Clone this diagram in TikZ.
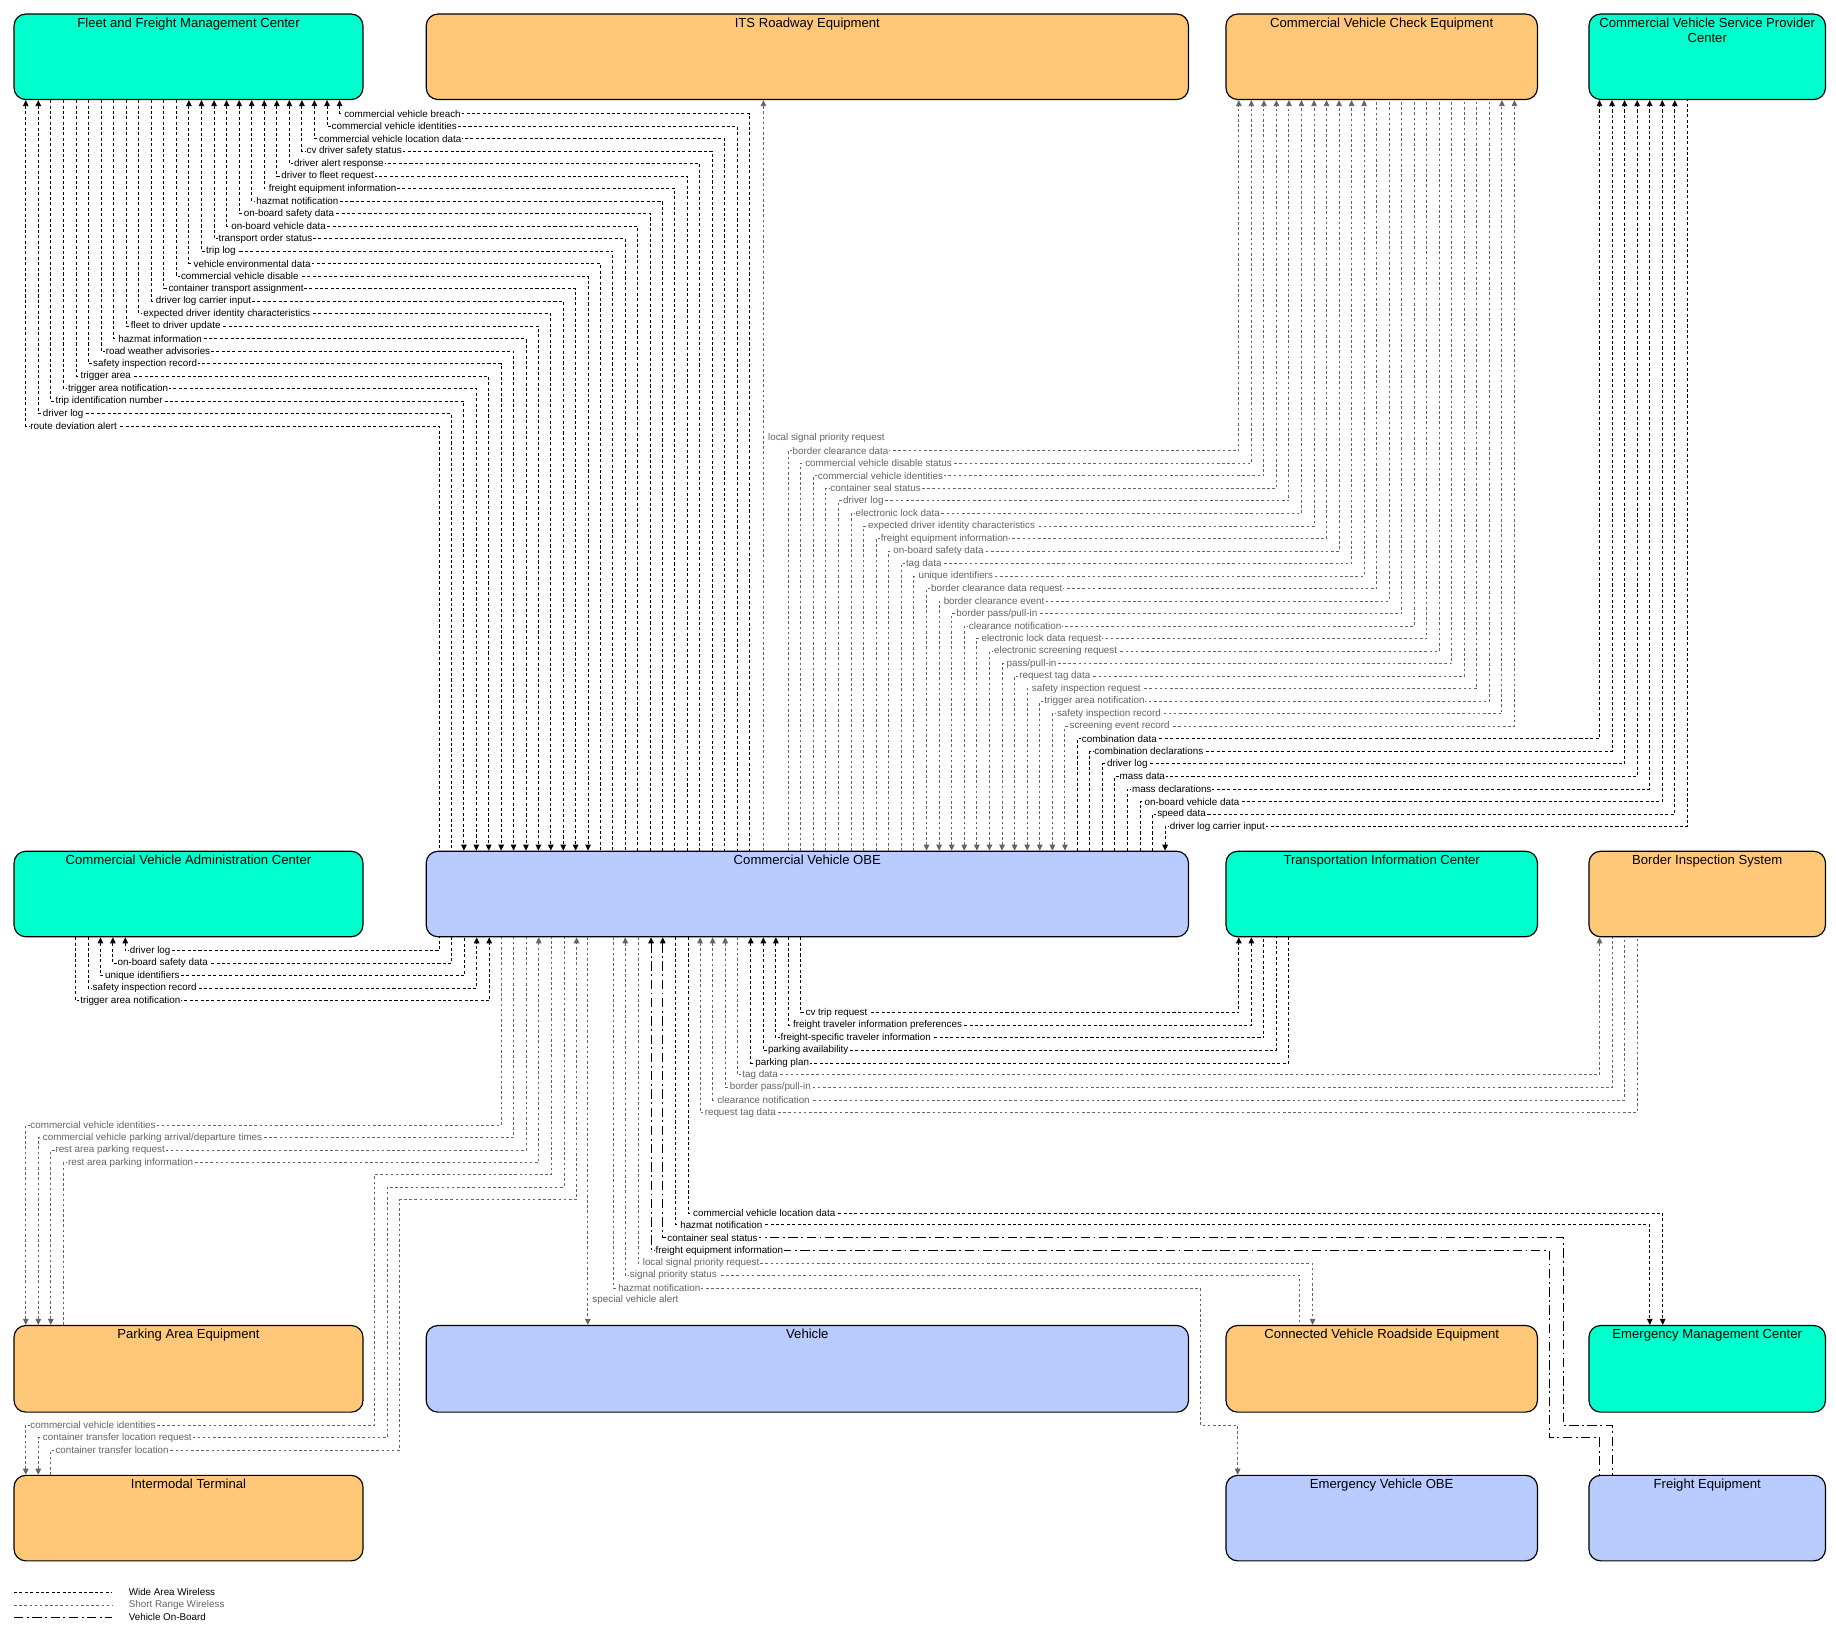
\documentclass[tikz,border=0pt]{standalone}
\usepackage{fontspec}
\setmainfont{Liberation Sans}
\usetikzlibrary{arrows.meta,fit}
\definecolor{cteal}{RGB}{0,255,204}
\definecolor{corange}{RGB}{255,200,120}
\definecolor{cblue}{RGB}{184,204,255}
\definecolor{cgrey}{RGB}{100,100,100}
\tikzset{
  box/.style={draw=black,line width=0.5pt,rounded corners=5pt,inner sep=0pt},
  ttl/.style={font=\fontsize{5.6}{6.4}\selectfont,inner sep=1pt,align=center,anchor=north},
  wa/.style={line width=0.4pt,black,dash pattern=on 1.3pt off 1pt,-{},>={Triangle[length=2.6pt,width=2.4pt]}},
  sr/.style={line width=0.4pt,cgrey,dash pattern=on 1.1pt off 1.1pt,>={Triangle[length=2.6pt,width=2.4pt]}},
  vob/.style={line width=0.4pt,black,dash pattern=on 4pt off 1.5pt on 0.8pt off 1.5pt,>={Triangle[length=2.6pt,width=2.4pt]}},
  walbl/.style={text=black},
  srlbl/.style={text=cgrey},
  voblbl/.style={text=black},
  lbl/.style={font=\fontsize{4.2}{4.6}\selectfont,fill=white,inner sep=0.4pt,anchor=west,xshift=1.4pt},
  arrF/.style={<-},arrS/.style={->},arrB/.style={<->},
}
% #1 style, #2 arrow (F/S/B), #3 x1, #4 node1 anchor, #5 y, #6 x2, #7 node2 anchor, #8 label, #9 name
\newcommand\flw[9]{%
  \draw[#1,arr#2] (#3,0 |- #4) -- (#3,#5) -- (#6,#5) -- (#6,0 |- #7);
  \node[lbl,#1lbl] (#9) at (#3,#5) {#8};}
\newcommand\bx[7]{%
  \node[box,fill=#6,fit={(#2,#3) (#4,#5)}] (#1) {};
  \node[ttl] (#1-t) at ([yshift=-0.6pt]#1.north) {#7};}
\begin{document}
\begin{tikzpicture}[x=0.5pt,y=-0.5pt]
\useasboundingbox (0,0) rectangle (1568,1397);
\bx{fleet}{12}{12}{310}{85}{cteal}{Fleet and Freight Management Center}
\bx{its}{364}{12}{1015}{85}{corange}{ITS Roadway Equipment}
\bx{check}{1047}{12}{1313}{85}{corange}{Commercial Vehicle Check Equipment}
\bx{sp}{1357}{12}{1559}{85}{cteal}{Commercial Vehicle Service Provider\\Center}
\bx{admin}{12}{727}{310}{800}{cteal}{Commercial Vehicle Administration Center}
\bx{obe}{364}{727}{1015}{800}{cblue}{Commercial Vehicle OBE}
\bx{tic}{1047}{727}{1313}{800}{cteal}{Transportation Information Center}
\bx{bis}{1357}{727}{1559}{800}{corange}{Border Inspection System}
\bx{park}{12}{1132}{310}{1206}{corange}{Parking Area Equipment}
\bx{veh}{364}{1132}{1015}{1206}{cblue}{Vehicle}
\bx{cvre}{1047}{1132}{1313}{1206}{corange}{Connected Vehicle Roadside Equipment}
\bx{emc}{1357}{1132}{1559}{1206}{cteal}{Emergency Management Center}
\bx{imt}{12}{1260}{310}{1333}{corange}{Intermodal Terminal}
\bx{evobe}{1047}{1260}{1313}{1333}{cblue}{Emergency Vehicle OBE}
\bx{fe}{1357}{1260}{1559}{1333}{cblue}{Freight Equipment}

% Fleet <-> OBE
\foreach \a/\t [count=\k from 0] in {F/commercial vehicle breach,F/commercial vehicle identities,F/commercial vehicle location data,F/cv driver safety status,F/driver alert response,F/driver to fleet request,F/freight equipment information,F/hazmat notification,F/on-board safety data,F/on-board vehicle data,F/transport order status,F/trip log,F/vehicle environmental data,S/commercial vehicle disable,S/container transport assignment,S/driver log carrier input,S/expected driver identity characteristics,S/fleet to driver update,S/hazmat information,S/road weather advisories,S/safety inspection record,S/trigger area,S/trigger area notification,S/trip identification number,F/driver log,F/route deviation alert}{
  \pgfmathsetmacro\xa{22+10.72*(25-\k)}
  \pgfmathsetmacro\xb{375+10.6*(25-\k)}
  \pgfmathsetmacro\yy{97+10.68*\k}
  \flw{wa}{\a}{\xa}{fleet.south}{\yy}{\xb}{obe.north}{\t}{fl\k}
}
% ITS
\draw[sr,->] (652,0 |- obe.north) -- (652,0 |- its.south);
\node[lbl,srlbl] (its-l) at (652,374) {local signal priority request};
% Check equipment
\foreach \a/\t [count=\k from 0] in {S/border clearance data,S/commercial vehicle disable status,S/commercial vehicle identities,S/container seal status,S/driver log,S/electronic lock data,S/expected driver identity characteristics,S/freight equipment information,S/on-board safety data,S/tag data,S/unique identifiers,F/border clearance data request,F/border clearance event,F/{border pass/pull-in},F/clearance notification,F/electronic lock data request,F/electronic screening request,F/{pass/pull-in},F/request tag data,F/safety inspection request,F/trigger area notification,B/safety inspection record,B/screening event record}{
  \pgfmathsetmacro\xa{673+10.75*\k}
  \pgfmathsetmacro\xb{1058+10.7*\k}
  \pgfmathsetmacro\yy{385+10.7*\k}
  \flw{sr}{\a}{\xa}{obe.north}{\yy}{\xb}{check.south}{\t}{ck\k}
}
% Service provider
\foreach \a/\t [count=\k from 0] in {S/combination data,S/combination declarations,S/driver log,S/mass data,S/mass declarations,S/on-board vehicle data,S/speed data,F/driver log carrier input}{
  \pgfmathsetmacro\xa{920+10.72*\k}
  \pgfmathsetmacro\xb{1366+10.72*\k}
  \pgfmathsetmacro\yy{631+10.7*\k}
  \flw{wa}{\a}{\xa}{obe.north}{\yy}{\xb}{sp.south}{\t}{sp\k}
}
% Admin
\foreach \a/\t [count=\k from 0] in {F/driver log,F/on-board safety data,F/unique identifiers,S/safety inspection record,S/trigger area notification}{
  \pgfmathsetmacro\xa{107-10.6*\k}
  \pgfmathsetmacro\xb{375+10.7*\k}
  \pgfmathsetmacro\yy{812+10.7*\k}
  \flw{wa}{\a}{\xa}{admin.south}{\yy}{\xb}{obe.south}{\t}{ad\k}
}
% TIC
\foreach \a/\t [count=\k from 0] in {S/cv trip request,S/freight traveler information preferences,F/freight-specific traveler information,F/parking availability,F/parking plan}{
  \pgfmathsetmacro\xa{684-10.7*\k}
  \pgfmathsetmacro\xb{1058+10.7*\k}
  \pgfmathsetmacro\yy{865+10.7*\k}
  \flw{wa}{\a}{\xa}{obe.south}{\yy}{\xb}{tic.south}{\t}{ti\k}
}
% Border inspection
\foreach \a/\t [count=\k from 0] in {S/tag data,F/{border pass/pull-in},F/clearance notification,F/request tag data}{
  \pgfmathsetmacro\xa{630-10.7*\k}
  \pgfmathsetmacro\xb{1366+10.7*\k}
  \pgfmathsetmacro\yy{918+10.7*\k}
  \flw{sr}{\a}{\xa}{obe.south}{\yy}{\xb}{bis.south}{\t}{bi\k}
}
% Parking
\foreach \a/\t [count=\k from 0] in {F/commercial vehicle identities,F/{commercial vehicle parking arrival/departure times},F/rest area parking request,S/rest area parking information}{
  \pgfmathsetmacro\xa{22+10.7*\k}
  \pgfmathsetmacro\xb{428+10.7*\k}
  \pgfmathsetmacro\yy{961+10.7*\k}
  \flw{sr}{\a}{\xa}{park.north}{\yy}{\xb}{obe.south}{\t}{pk\k}
}
% Intermodal
\foreach \a/\t [count=\k from 0] in {F/commercial vehicle identities,F/container transfer location request,S/container transfer location}{
  \pgfmathsetmacro\xi{22+10.7*\k}
  \pgfmathsetmacro\xm{320+10.7*\k}
  \pgfmathsetmacro\xo{471+10.7*\k}
  \pgfmathsetmacro\ya{1003+10.7*\k}
  \pgfmathsetmacro\yb{1217+10.7*\k}
  \draw[sr,arr\a] (\xi,0 |- imt.north) -- (\xi,\yb) -- (\xm,\yb) -- (\xm,\ya) -- (\xo,\ya) -- (\xo,0 |- obe.south);
  \node[lbl,srlbl] (im\k) at (\xi,\yb) {\t};
}
% Vehicle
\draw[sr,->] (502,0 |- obe.south) -- (502,0 |- veh.north);
\node[lbl,srlbl] (veh-l) at (502,1110) {special vehicle alert};
% Emergency vehicle OBE
\draw[sr,->] (524,0 |- obe.south) -- (524,1100) -- (1025,1100) -- (1025,1217) -- (1057,1217) -- (1057,0 |- evobe.north);
\node[lbl,srlbl] (ev-l) at (524,1100) {hazmat notification};
% CVRE
\flw{sr}{F}{534}{obe.south}{1089}{1110}{cvre.north}{signal priority status}{cv0}
\flw{sr}{S}{545}{obe.south}{1079}{1121}{cvre.north}{local signal priority request}{cv1}
% Freight equipment
\draw[vob,<-] (556,0 |- obe.south) -- (556,1068) -- (1323,1068) -- (1323,1228) -- (1366,1228) -- (1366,0 |- fe.north);
\node[lbl,voblbl] (fe0) at (556,1068) {freight equipment information};
\draw[vob,<-] (566,0 |- obe.south) -- (566,1057) -- (1335,1057) -- (1335,1217) -- (1377,1217) -- (1377,0 |- fe.north);
\node[lbl,voblbl] (fe1) at (566,1057) {container seal status};
% EMC
\flw{wa}{S}{577}{obe.south}{1046}{1409}{emc.north}{hazmat notification}{em0}
\flw{wa}{S}{588}{obe.south}{1036}{1420}{emc.north}{commercial vehicle location data}{em1}

% Legend
\coordinate (lg1a) at (12,1360); \coordinate (lg1b) at (96,1360);
\coordinate (lg2a) at (12,1371); \coordinate (lg2b) at (96,1371);
\coordinate (lg3a) at (12,1381); \coordinate (lg3b) at (96,1381);
\draw[wa] (lg1a) -- (lg1b);
\draw[sr] (lg2a) -- (lg2b);
\draw[vob] (lg3a) -- (lg3b);
\node[lbl,fill=none,xshift=0pt] (lgt1) at (106,1360) {Wide Area Wireless};
\node[lbl,fill=none,xshift=0pt,text=cgrey] (lgt2) at (106,1371) {Short Range Wireless};
\node[lbl,fill=none,xshift=0pt] (lgt3) at (106,1381) {Vehicle On-Board};
\end{tikzpicture}
\end{document}
